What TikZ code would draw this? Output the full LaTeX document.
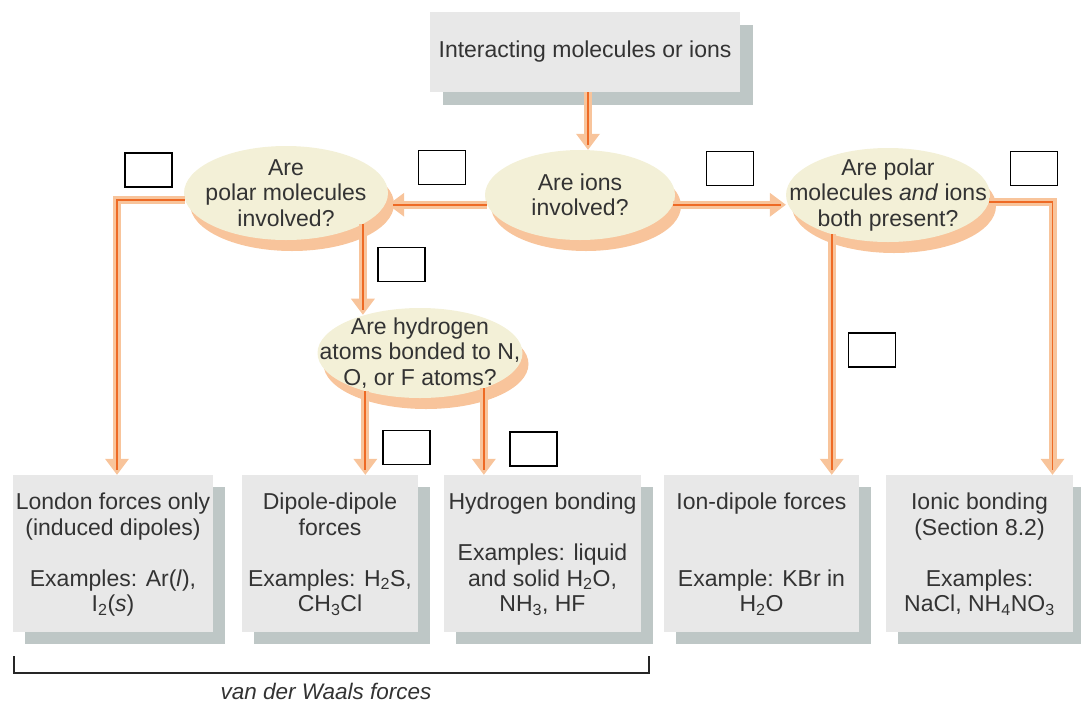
\documentclass[tikz,border=0pt]{standalone}
\usepackage{fontspec}
\setmainfont{Liberation Sans}
\usetikzlibrary{shapes.geometric,shadows,arrows.meta}
\definecolor{txt}{HTML}{333333}
\definecolor{boxfill}{HTML}{E8E8E8}
\definecolor{boxshadow}{HTML}{BEC7C6}
\definecolor{cream}{HTML}{F3F0D7}
\definecolor{peach}{HTML}{F8C49B}
\definecolor{orln}{HTML}{EE6A25}
\begin{document}
\begin{tikzpicture}[x=1pt,y=-1pt,
  font=\fontsize{23}{25.5}\selectfont, text=txt,
  gbox/.style={fill=boxfill, minimum height=157pt, inner sep=0pt,
    general shadow={fill=boxshadow, shadow xshift=12pt, shadow yshift=-12pt}},
  qell/.style={ellipse, fill=cream, inner sep=0pt,
    general shadow={fill=peach, shadow xshift=6pt, shadow yshift=-11pt}},
  lbl/.style={align=center, inner sep=0pt},
  blank/.style={draw=black, line width=1.2pt, fill=white, minimum width=47pt, minimum height=34pt, inner sep=0pt},
  flow/.style={draw=orln, line width=1.8pt, shorten >=5pt,
    preaction={draw=peach, line width=8pt, shorten >=0pt,
      -{Triangle[width=24pt,length=16pt,line width=0pt]}}},
  bracket/.style={draw=black!85, line width=1.2pt}
]
\useasboundingbox (0,0) rectangle (1081,702);

% top box
\node[fill=boxfill, minimum width=310pt, minimum height=80pt, inner sep=0pt,
  general shadow={fill=boxshadow, shadow xshift=13pt, shadow yshift=-13pt}] (top) at (585,52) {};
\node[lbl] (topT) at (top.center) {Interacting molecules or ions};

% question ellipses
\node[qell, minimum width=190pt, minimum height=90pt] (ions) at (580,195) {};
\node[lbl] (ionsT) at (ions.center) {Are ions\\involved?};
\node[qell, minimum width=204pt, minimum height=94pt] (polar) at (286,193) {};
\node[lbl] (polarT) at (polar.center) {Are\\polar molecules\\involved?};
\node[qell, minimum width=204pt, minimum height=94pt] (both) at (888,195) {};
\node[lbl] (bothT) at (both.center) {Are polar\\molecules \textit{and} ions\\both present?};
\node[qell, minimum width=205pt, minimum height=90pt] (hyd) at (420,353) {};
\node[lbl] (hydT) at (hyd.center) {Are hydrogen\\atoms bonded to N,\\O, or F atoms?};

% result boxes
\node[gbox, minimum width=200pt] (london) at (113,553.5) {};
\node[gbox, minimum width=176pt] (dipole) at (330,553.5) {};
\node[gbox, minimum width=197pt] (hbond) at (542.5,553.5) {};
\node[gbox, minimum width=195pt] (iondip) at (761.5,553.5) {};
\node[gbox, minimum width=187pt] (ionic) at (979.5,553.5) {};

\node[lbl, anchor=north] (londonT) at ([yshift=-18pt]london.north)
  {London forces only\\(induced dipoles)\\[25.5pt]Examples: Ar(\textit{l}),\\I\textsubscript{2}(\textit{s})};
\node[lbl, anchor=north] (dipoleT) at ([yshift=-18pt]dipole.north)
  {Dipole-dipole\\forces\\[25.5pt]Examples: H\textsubscript{2}S,\\CH\textsubscript{3}Cl};
\node[lbl, anchor=north] (hbondT) at ([yshift=-18pt]hbond.north)
  {Hydrogen bonding\\[25.5pt]Examples: liquid\\and solid H\textsubscript{2}O,\\NH\textsubscript{3}, HF};
\node[lbl, anchor=north] (iondipT) at ([yshift=-18pt]iondip.north)
  {Ion-dipole forces\\[51pt]Example: KBr in\\H\textsubscript{2}O};
\node[lbl, anchor=north] (ionicT) at ([yshift=-18pt]ionic.north)
  {Ionic bonding\\(Section 8.2)\\[25.5pt]Examples:\\NaCl, NH\textsubscript{4}NO\textsubscript{3}};

% connectors
\draw[flow] ([xshift=3pt]top.south) -- ([xshift=3pt]top.south |- ions.north);
\draw[flow] (ions.186) -- (ions.186 -| polar.east);
\draw[flow] (ions.354) -- (ions.354 -| both.west);
\draw[flow] (polar.184) -| ([xshift=4pt]london.north);
\draw[flow] (polar.338) -- (polar.338 |- hyd.145);
\draw[flow] (hyd.215) -- (hyd.215 |- dipole.north);
\draw[flow] (hyd.331) -- (hyd.331 |- hbond.north);
\draw[flow] (both.215) -- (both.215 |- iondip.north);
\draw[flow] (both.356) -| ([xshift=73pt]ionic.north);

% answer blanks
\node[blank] (b1) at (148.5,170) {};
\node[blank] (b2) at (442,167.5) {};
\node[blank] (b3) at (730,168.5) {};
\node[blank] (b4) at (1034,168.5) {};
\node[blank] (b5) at (401.5,264.5) {};
\node[blank] (b6) at (872,350) {};
\node[blank] (b7) at (406.5,447.5) {};
\node[blank] (b8) at (533.5,449) {};

% van der Waals bracket
\coordinate (bl) at (14,656);
\coordinate (br) at (649,656);
\draw[bracket] (bl) -- ++(0,17) -| (br);
\node[lbl, font=\fontsize{22.5}{25}\selectfont\itshape] (vdw) at (326,691) {van der Waals forces};
\end{tikzpicture}
\end{document}
